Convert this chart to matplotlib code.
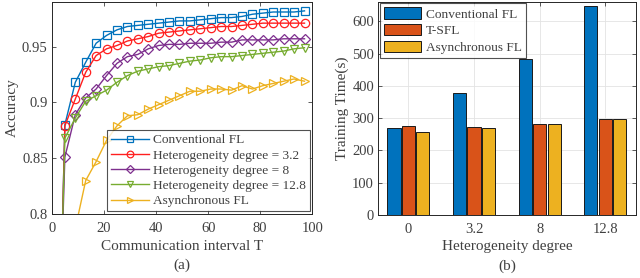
import matplotlib.pyplot as plt
import numpy as np

plt.rcParams['font.family'] = ['Liberation Serif', 'DejaVu Serif']

# ---- (a) accuracy vs communication interval ----
T = [1, 5, 9, 13, 17, 21, 25, 29, 33, 37, 41, 45, 49, 53, 57, 61, 65, 69, 73, 77, 81, 85, 89, 93, 97]
acc_conv = [0.50, 0.880, 0.918, 0.936, 0.953, 0.960, 0.965, 0.968, 0.969, 0.970, 0.971, 0.972, 0.973,
            0.973, 0.974, 0.975, 0.976, 0.976, 0.977, 0.979, 0.980, 0.981, 0.981, 0.981, 0.982]
acc_h32 = [0.50, 0.879, 0.903, 0.927, 0.942, 0.948, 0.951, 0.955, 0.957, 0.959, 0.962, 0.963, 0.964,
           0.965, 0.966, 0.967, 0.968, 0.968, 0.969, 0.970, 0.971, 0.971, 0.971, 0.971, 0.971]
acc_h8 = [0.55, 0.851, 0.889, 0.904, 0.912, 0.924, 0.935, 0.941, 0.943, 0.948, 0.951, 0.952, 0.952,
          0.953, 0.953, 0.953, 0.954, 0.954, 0.956, 0.956, 0.956, 0.956, 0.957, 0.957, 0.957]
acc_h128 = [0.52, 0.868, 0.886, 0.901, 0.906, 0.911, 0.918, 0.924, 0.928, 0.930, 0.932, 0.933, 0.935,
            0.937, 0.938, 0.940, 0.941, 0.941, 0.942, 0.943, 0.944, 0.945, 0.946, 0.948, 0.949]
acc_async = [0.60, 0.74, 0.787, 0.830, 0.847, 0.866, 0.879, 0.888, 0.889, 0.894, 0.898, 0.902, 0.906,
             0.910, 0.910, 0.912, 0.912, 0.911, 0.915, 0.912, 0.915, 0.917, 0.919, 0.921, 0.919]

# ---- (b) training time ----
degrees = ['0', '3.2', '8', '12.8']
time_conv = [270, 378, 484, 648]
time_tsfl = [275, 273, 281, 296]
time_async = [257, 269, 282, 297]

fig = plt.figure(figsize=(6.4, 2.78), dpi=100)
txt = '#404040'

ax1 = fig.add_axes([0.081, 0.230, 0.407, 0.763])
series = [
    (acc_conv, '#0072BD', 's', 'Conventional FL'),
    (acc_h32, '#FF1F1F', 'o', 'Heterogeneity degree = 3.2'),
    (acc_h8, '#7E2F8E', 'D', 'Heterogeneity degree = 8'),
    (acc_h128, '#77AC30', 'v', 'Heterogeneity degree = 12.8'),
    (acc_async, '#EDB120', '>', 'Asynchronous FL'),
]
for vals, c, m, lab in series:
    ms = 5 if m == 'D' else 6
    ax1.plot(T, vals, color=c, marker=m, markersize=ms, markerfacecolor='none',
             markeredgewidth=0.9, linewidth=1.0, label=lab)
ax1.set_xlim(0, 100)
ax1.set_ylim(0.8, 0.99)
ax1.set_xticks([0, 20, 40, 60, 80, 100])
ax1.set_yticks([0.8, 0.85, 0.9, 0.95])
ax1.set_yticklabels(['0.8', '0.85', '0.9', '0.95'])
ax1.set_xlabel('Communication interval T', fontsize=11, color=txt, labelpad=3)
ax1.set_ylabel('Accuracy', fontsize=11, color=txt, labelpad=2)
leg1 = ax1.legend(loc='lower right', fontsize=9.6, frameon=True, fancybox=False,
                  edgecolor='#262626', borderaxespad=0.2, handlelength=2.8,
                  labelspacing=0.22, borderpad=0.3, handletextpad=0.3, markerscale=0.8)
leg1.get_frame().set_linewidth(0.8)
for t in leg1.get_texts():
    t.set_color(txt)
ax1.text(0.5, -0.24, '(a)', transform=ax1.transAxes, ha='center', va='center', fontsize=11, color=txt)

ax2 = fig.add_axes([0.591, 0.227, 0.403, 0.766])
x = np.arange(1, len(degrees) + 1)
w = 0.2
ax2.bar(x - 0.22, time_conv, w, color='#0072BD', edgecolor='#1a1a1a', linewidth=0.7, label='Conventional FL', zorder=3)
ax2.bar(x, time_tsfl, w, color='#D95319', edgecolor='#1a1a1a', linewidth=0.7, label='T-SFL', zorder=3)
ax2.bar(x + 0.22, time_async, w, color='#EDB120', edgecolor='#1a1a1a', linewidth=0.7, label='Asynchronous FL', zorder=3)
ax2.set_xlim(0.54, 4.47)
ax2.set_ylim(0, 660)
ax2.set_xticks(x)
ax2.set_xticklabels(degrees)
ax2.set_yticks(range(0, 700, 100))
ax2.grid(True, color='#e3e3e3', linewidth=0.6, zorder=0)
ax2.set_axisbelow(True)
ax2.set_xlabel('Heterogeneity degree', fontsize=11, color=txt, labelpad=3)
ax2.set_ylabel('Training Time(s)', fontsize=11, color=txt, labelpad=2)
leg2 = ax2.legend(loc='upper left', fontsize=9.6, frameon=True, fancybox=False,
                  edgecolor='#262626', borderaxespad=0.1, handlelength=2.8, handleheight=0.95,
                  labelspacing=0.25, borderpad=0.3, handletextpad=0.4)
leg2.get_frame().set_linewidth(0.8)
for t in leg2.get_texts():
    t.set_color(txt)
ax2.text(0.5, -0.24, '(b)', transform=ax2.transAxes, ha='center', va='center', fontsize=11, color=txt)

for ax in (ax1, ax2):
    ax.tick_params(direction='in', top=True, right=True, labelsize=10.5, colors=txt,
                   length=3, width=0.6, pad=3)
    ax.tick_params(axis='x', pad=6)
    for s in ax.spines.values():
        s.set_color('#262626')
        s.set_linewidth(0.7)

fig.savefig('out.png', dpi=100)
